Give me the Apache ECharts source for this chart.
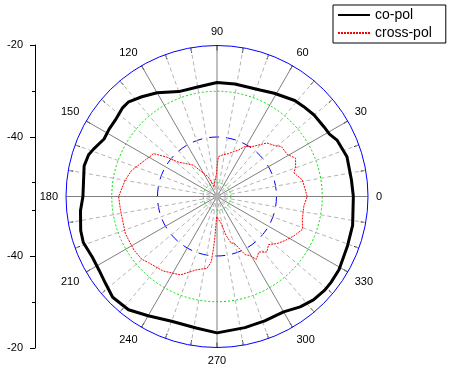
<!DOCTYPE html>
<html>
<head>
<meta charset="utf-8">
<script src="https://cdn.jsdelivr.net/npm/echarts@6/dist/echarts.min.js"></script>
<style>
  html, body { margin: 0; padding: 0; background: #fff; }
  #chart { width: 452px; height: 378px; }
</style>
</head>
<body>
<div id="chart"></div>
<script>
// radial scale (dB)
let rMin = -53
let rMax = -20
let majorTicks = [-40, -20]
let minorTicks = [-50, -30]

// co-pol, angle in degrees and level in dB
let copolAngles = [0, 7, 17, 25, 29, 33, 40, 46, 51, 61, 68, 81, 90, 100, 110, 120, 127, 133, 137, 143,
  148, 153, 159, 162, 167, 180, 186, 194, 199, 206, 212, 218, 224, 232, 240, 250, 261, 270, 282, 291,
  300, 307, 313, 319, 323, 329, 339, 348, 360]
let copolValues = [-23.2, -23.4, -23.3, -24.0, -24.9, -25.1, -25.3, -25.7, -26.0, -27.2, -27.9, -28.1, -28.1, -28.7, -28.6, -26.8, -25.7, -24.7, -24.7, -25.2,
  -25.2, -25.3, -24.1, -23.5, -23.2, -23.7, -23.0, -22.3, -22.1, -22.7, -22.6, -22.1, -21.3, -21.6, -22.9, -24.0, -23.9, -23.2, -23.7, -23.9,
  -23.9, -22.8, -22.1, -21.8, -21.8, -21.9, -22.5, -22.7, -23.2]

// cross-pol
let crossAngles = [0, 5, 11, 17, 21, 26, 31, 38, 41, 47, 55, 61, 65, 70, 75, 82, 88, 90, 91, 100,
  107, 114, 116, 122, 124, 127, 135, 139, 142, 146, 148, 153, 163, 170, 180, 188, 202, 213, 220, 224,
  234, 245, 254, 258, 262, 265, 266, 267, 269, 272, 274, 279, 283, 287, 290, 296, 299, 302, 307, 312,
  317, 322, 327, 333, 339, 345, 354, 360]
let crossValues = [-33.3, -33.7, -34.0, -35.4, -34.6, -33.9, -35.1, -35.2, -36.1, -37.0, -39.7, -40.5, -41.8, -42.6, -43.3, -43.8, -44.3, -46.5, -47.9, -50.0,
  -50.8, -48.3, -47.8, -46.6, -46.4, -44.4, -42.7, -41.4, -39.0, -36.2, -36.1, -35.4, -33.5, -32.6, -31.5, -31.7, -31.4, -31.4, -31.6, -32.2,
  -32.9, -34.1, -36.3, -36.8, -37.1, -38.7, -41.3, -44.0, -48.6, -49.0, -48.6, -47.0, -44.3, -42.3, -42.2, -38.8, -38.3, -36.8, -37.8, -36.7,
  -37.6, -36.3, -35.3, -34.1, -33.0, -33.7, -33.9, -33.3]

const font = 'Liberation Sans, Arial, sans-serif'
const clear = 'rgba(0,0,0,0)'
const center = [217, 196.5]
const radius = 151

let myChart = echarts.init(document.getElementById('chart'), null, { renderer: 'canvas' })

function pairs(angles, values) {
  return angles.map((a, i) => [values[i], a])
}

// left scale: two halves, top one going up, bottom one mirrored
function leftY(gridIndex, inverse) {
  return [
    {
      gridIndex: gridIndex,
      type: 'value',
      min: rMin,
      max: rMax,
      inverse: inverse,
      position: 'left',
      axisLine: { show: true, lineStyle: { color: '#000', width: 1 } },
      axisTick: { show: true, length: 5, customValues: majorTicks, lineStyle: { color: '#000' } },
      axisLabel: { customValues: majorTicks, color: '#000', fontSize: 11, fontFamily: font, margin: 12 },
      splitLine: { show: false },
    },
    {
      gridIndex: gridIndex,
      type: 'value',
      min: rMin,
      max: rMax,
      inverse: inverse,
      position: 'left',
      axisLine: { show: false },
      axisTick: { show: true, length: 3, customValues: minorTicks, lineStyle: { color: '#000' } },
      axisLabel: { show: false },
      splitLine: { show: false },
    },
  ]
}

myChart.setOption({
  animation: false,
  backgroundColor: '#fff',
  legend: {
    orient: 'vertical',
    left: 333,
    top: 5,
    padding: [3, 14, 3, 4],
    itemGap: 4,
    itemWidth: 32,
    itemHeight: 12,
    borderColor: '#000',
    borderWidth: 1,
    backgroundColor: '#fff',
    itemStyle: { opacity: 0 },
    textStyle: { color: '#000', fontSize: 14, fontFamily: font },
    data: ['co-pol', 'cross-pol'],
  },
  grid: [
    { left: 35, top: 45, width: 10, height: 151.5 },
    { left: 35, top: 196.5, width: 10, height: 151.5 },
  ],
  xAxis: [
    { gridIndex: 0, type: 'value', show: false },
    { gridIndex: 1, type: 'value', show: false },
  ],
  yAxis: [...leftY(0, false), ...leftY(1, true)],
  polar: [
    { center: center, radius: radius },
    { center: center, radius: radius },
  ],
  angleAxis: [
    {
      polarIndex: 0,
      type: 'value',
      min: 0,
      max: 360,
      interval: 30,
      startAngle: 0,
      clockwise: false,
      axisLine: { show: true, lineStyle: { color: '#0000ff', width: 1 } },
      axisTick: { show: true, inside: true, length: 5, lineStyle: { color: '#000' } },
      minorTick: { show: true, splitNumber: 3, length: 5, lineStyle: { color: '#000' } },
      axisLabel: {
        color: '#000',
        fontSize: 11,
        fontFamily: font,
        margin: 8,
        formatter: (v) => (v === 360 ? '' : String(v)),
      },
      splitLine: { show: true, lineStyle: { color: '#808080', width: 1 } },
      minorSplitLine: { show: true, lineStyle: { color: '#b4b4b4', width: 1, type: [4, 3] } },
    },
    {
      polarIndex: 1,
      type: 'value',
      min: 0,
      max: 360,
      startAngle: 0,
      clockwise: false,
      show: false,
    },
  ],
  radiusAxis: [
    {
      polarIndex: 0,
      type: 'value',
      min: rMin,
      max: rMax,
      splitNumber: 3,
      axisLine: { show: false },
      axisTick: { show: false },
      axisLabel: { show: false },
      splitLine: {
        show: true,
        lineStyle: { color: [clear, '#00e000', clear, '#00e000', clear], width: 1, type: [2, 2] },
      },
    },
    {
      polarIndex: 1,
      type: 'value',
      min: rMin,
      max: rMax,
      splitNumber: 3,
      axisLine: { show: false },
      axisTick: { show: false },
      axisLabel: { show: false },
      splitLine: {
        show: true,
        lineStyle: { color: [clear, clear, '#0000ff', clear, clear], width: 1, type: [10, 7] },
      },
    },
  ],
  series: [
    {
      name: 'co-pol',
      type: 'line',
      coordinateSystem: 'polar',
      polarIndex: 0,
      symbol: 'none',
      z: 5,
      lineStyle: { color: '#000', width: 3 },
      itemStyle: { color: '#000' },
      data: pairs(copolAngles, copolValues),
    },
    {
      name: 'cross-pol',
      type: 'line',
      coordinateSystem: 'polar',
      polarIndex: 0,
      symbol: 'none',
      z: 4,
      lineStyle: { color: '#ff0000', width: 1, type: [2, 1] },
      itemStyle: { color: '#ff0000' },
      data: pairs(crossAngles, crossValues),
    },
  ],
})
</script>
</body>
</html>
